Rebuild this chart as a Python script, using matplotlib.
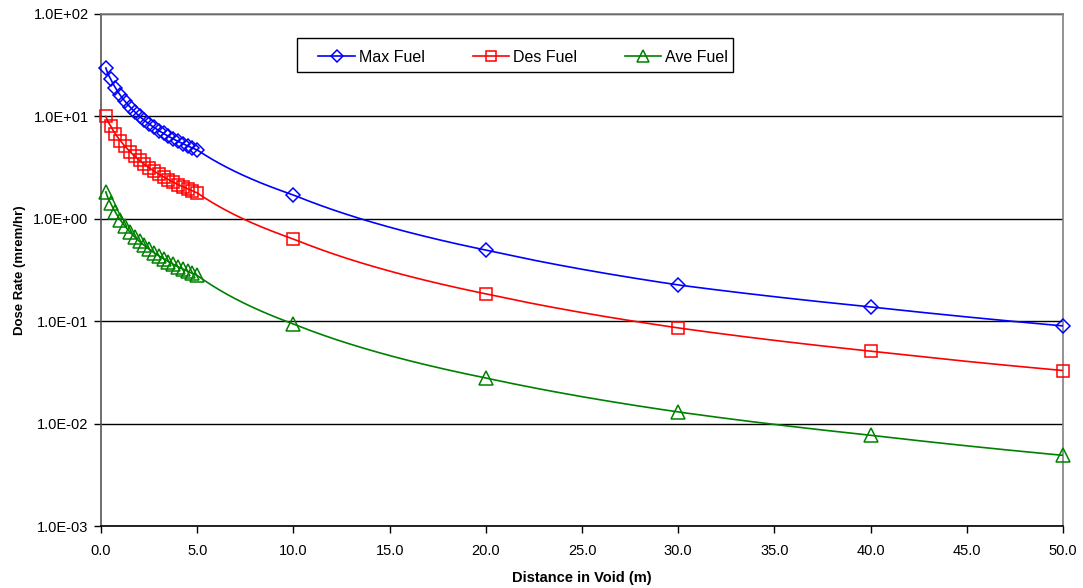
import numpy as np
import matplotlib
matplotlib.use("Agg")
import matplotlib.pyplot as plt
from matplotlib.patches import Rectangle
from matplotlib.ticker import FuncFormatter, FixedLocator

plt.rcParams['font.family'] = ['Liberation Sans', 'DejaVu Sans']

# distance in void (m)
dist = [0.25, 0.5, 0.75, 1.0, 1.25, 1.5, 1.75, 2.0, 2.25, 2.5,
        2.75, 3.0, 3.25, 3.5, 3.75, 4.0, 4.25, 4.5, 4.75, 5.0,
        10.0, 20.0, 30.0, 40.0, 50.0]

# dose rates (mrem/hr)
max_fuel = [29.7, 23.2, 19.0, 16.1, 14.0, 12.4, 11.1, 10.0, 9.16, 8.43,
            7.81, 7.27, 6.81, 6.40, 6.03, 5.71, 5.42, 5.15, 4.91, 4.70,
            1.71, 0.495, 0.226, 0.138, 0.090]
des_fuel = [10.0, 8.05, 6.74, 5.80, 5.09, 4.53, 4.08, 3.72, 3.41, 3.15,
            2.93, 2.73, 2.57, 2.42, 2.28, 2.16, 2.06, 1.96, 1.87, 1.79,
            0.635, 0.185, 0.086, 0.051, 0.033]
ave_fuel = [1.83, 1.42, 1.16, 0.976, 0.844, 0.744, 0.665, 0.601, 0.549, 0.505,
            0.467, 0.435, 0.407, 0.382, 0.360, 0.340, 0.323, 0.307, 0.293, 0.280,
            0.094, 0.0279, 0.0130, 0.0077, 0.0049]

series = [("Max Fuel", max_fuel, "#0000FF", "D", 7.5),
          ("Des Fuel", des_fuel, "#FF0000", "s", 8.5),
          ("Ave Fuel", ave_fuel, "#008000", "^", 9.5)]

fig = plt.figure(figsize=(10.83, 5.88), dpi=100)
ax = fig.add_axes([0.0933, 0.1054, 0.8883, 0.8708])

x = np.array(dist)
xs = np.linspace(x[0], x[-1], 800)
for name, vals, col, mk, ms in series:
    y = np.array(vals)
    # smooth line drawn through the points in log-log space
    ys = np.exp(np.interp(np.log(xs), np.log(x), np.log(y)))
    ax.plot(xs, ys, color=col, lw=1.2, zorder=3)
    ax.plot(x, y, linestyle='none', marker=mk, ms=ms, mfc='none',
            mec=col, mew=1.1, zorder=4, clip_on=False)
    ax.plot([], [], color=col, lw=1.2, marker=mk, ms=ms * 0.85,
            mfc='none', mec=col, mew=1.1, label=name)

ax.set_yscale('log')
ax.set_ylim(1e-3, 1e2)
ax.set_xlim(0, 50)
ax.yaxis.set_major_locator(FixedLocator([1e-3, 1e-2, 1e-1, 1e0, 1e1, 1e2]))
ax.yaxis.set_minor_locator(FixedLocator([]))
ax.yaxis.set_major_formatter(FuncFormatter(lambda v, p: "%.1E" % v))
ax.set_xticks(np.arange(0, 51, 5))
ax.xaxis.set_major_formatter(FuncFormatter(lambda v, p: "%.1f" % v))

ax.grid(True, axis='y', color='black', lw=1.0, zorder=1)
ax.tick_params(axis='both', direction='out', length=5, width=1,
               labelsize=10.5, pad=4)
ax.tick_params(axis='x', pad=8)

ax.spines['top'].set_color('#808080')
ax.spines['right'].set_color('#808080')
ax.spines['left'].set_color('#555555')
ax.spines['bottom'].set_color('black')
for s in ax.spines.values():
    s.set_linewidth(1.2)

ax.set_xlabel("Distance in Void (m)", fontsize=10.5, fontweight='bold', labelpad=9)
ax.set_ylabel("Dose Rate (mrem/hr)", fontsize=9.5, fontweight='bold', labelpad=5)

# legend box drawn separately so the entries can sit off-centre like the original
ax.add_patch(Rectangle((0.204, 0.887), 0.453, 0.066, transform=ax.transAxes,
                       facecolor='white', edgecolor='black', lw=1.0, zorder=5))
leg = ax.legend(loc='center left', bbox_to_anchor=(0.226, 0.882, 0.426, 0.066),
                mode='expand', ncol=3, fontsize=11.5, frameon=False,
                handlelength=2.3, handletextpad=0.25, borderaxespad=0,
                borderpad=0)
leg.set_zorder(6)

fig.savefig("out.png", dpi=100)
